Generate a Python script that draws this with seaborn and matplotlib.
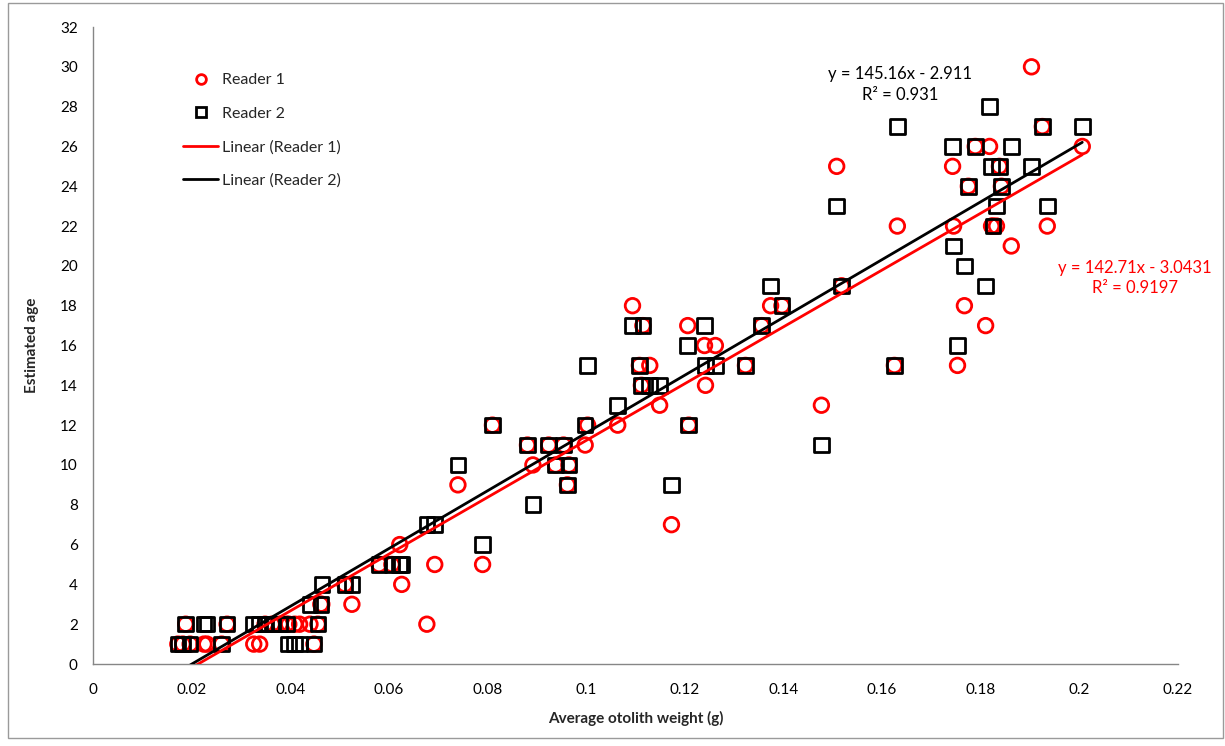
import numpy as np
import pandas as pd
import seaborn as sns
import matplotlib.pyplot as plt
from matplotlib.lines import Line2D
from matplotlib.patches import Rectangle

# average otolith weight (g) per fish, with the age given by each reader
weight = [0.0172, 0.0182, 0.0188, 0.0197, 0.0225, 0.0231, 0.0261, 0.0272,
          0.0326, 0.0338, 0.0349, 0.0363, 0.0379, 0.0393, 0.0397, 0.0409,
          0.0419, 0.0440, 0.0448, 0.0456, 0.0462, 0.0464, 0.0525, 0.0511,
          0.0580, 0.0606, 0.0622, 0.0626, 0.0677, 0.0693, 0.0740, 0.0790,
          0.0810, 0.0881, 0.0892, 0.0924, 0.0938, 0.0954, 0.0962, 0.0965,
          0.0998, 0.1003, 0.1064, 0.1094, 0.1115, 0.1108, 0.1112, 0.1129,
          0.1149, 0.1173, 0.1206, 0.1208, 0.1240, 0.1242, 0.1262, 0.1323,
          0.1356, 0.1374, 0.1397, 0.1477, 0.1508, 0.1518, 0.1625, 0.1631,
          0.1743, 0.1745, 0.1753, 0.1767, 0.1775, 0.1789, 0.1810, 0.1818,
          0.1822, 0.1825, 0.1832, 0.1838, 0.1842, 0.1862, 0.1903, 0.1925,
          0.1935, 0.2006]
reader1 = [1, 1, 2, 1, 1, 1, 1, 2,
           1, 1, 2, 2, 2, 2, 2, 2,
           2, 2, 1, 2, 3, 3, 3, 4,
           5, 5, 6, 4, 2, 5, 9, 5,
           12, 11, 10, 11, 10, 11, 9, 10,
           11, 12, 12, 18, 17, 15, 14, 15,
           13, 7, 17, 12, 16, 14, 16, 15,
           17, 18, 18, 13, 25, 19, 15, 22,
           25, 22, 15, 18, 24, 26, 17, 26,
           22, 22, 22, 25, 24, 21, 30, 27,
           22, 26]
reader2 = [1, 1, 2, 1, 2, 2, 1, 2,
           2, 2, 2, 2, 2, 2, 1, 1,
           1, 3, 1, 2, 3, 4, 4, 4,
           5, 5, 5, 5, 7, 7, 10, 6,
           12, 11, 8, 11, 10, 11, 9, 10,
           12, 15, 13, 17, 17, 15, 14, 14,
           14, 9, 16, 12, 17, 15, 15, 15,
           17, 19, 18, 11, 23, 19, 15, 27,
           26, 21, 16, 20, 24, 26, 19, 28,
           25, 22, 23, 25, 24, 26, 25, 27,
           23, 27]

# trendline coefficients as printed on the chart
fit1 = (142.71, -3.0431, 0.9197)
fit2 = (145.16, -2.911, 0.931)

df = pd.DataFrame({'weight': weight, 'r1': reader1, 'r2': reader2})

sns.set_theme(style='white')
plt.rcParams['font.family'] = ['Lato', 'DejaVu Sans']

fig = plt.figure(figsize=(12.25, 7.46), dpi=100)
ax = fig.add_axes([0.0759, 0.1099, 0.8857, 0.8539])

sns.scatterplot(data=df, x='weight', y='r1', ax=ax, marker='o', s=110,
                facecolor='none', edgecolor='#ff0000', linewidth=2, zorder=3)
sns.scatterplot(data=df, x='weight', y='r2', ax=ax, marker='s', s=110,
                facecolor='none', edgecolor='black', linewidth=2, zorder=3)

xs = np.array([df['weight'].min(), df['weight'].max()])
sns.lineplot(x=xs, y=fit1[0] * xs + fit1[1], ax=ax, color='#ff0000', linewidth=2, zorder=4)
sns.lineplot(x=xs, y=fit2[0] * xs + fit2[1], ax=ax, color='black', linewidth=2, zorder=4)

ax.set_xlim(0, 0.22)
ax.set_ylim(0, 32)
ax.set_xticks(np.arange(0, 0.2201, 0.02))
ax.set_xticklabels(['0', '0.02', '0.04', '0.06', '0.08', '0.1', '0.12', '0.14',
                    '0.16', '0.18', '0.2', '0.22'])
ax.set_yticks(range(0, 33, 2))
ax.tick_params(axis='both', direction='out', length=5, width=1, color='#868686',
               labelsize=11, labelcolor='black', pad=6)
ax.tick_params(axis='x', pad=9)
for side in ['top', 'right']:
    ax.spines[side].set_visible(False)
for side in ['left', 'bottom']:
    ax.spines[side].set_color('#868686')
    ax.spines[side].set_linewidth(1)

ax.set_xlabel('Average otolith weight (g)', fontsize=11, fontweight='bold', labelpad=10)
ax.set_ylabel('Estimated age', fontsize=11, fontweight='bold', labelpad=15)

ax.text(0.1636, 29.1, f'y = {fit2[0]}x - {abs(fit2[1])}\nR² = {fit2[2]}',
        ha='center', va='center', fontsize=12, color='black', linespacing=1.35)
ax.text(0.2112, 19.4, f'y = {fit1[0]}x - {abs(fit1[1])}\nR² = {fit1[2]}',
        ha='center', va='center', fontsize=12, color='#ff0000', linespacing=1.3)

handles = [
    Line2D([], [], marker='o', linestyle='none', markersize=7, markerfacecolor='none',
           markeredgecolor='#ff0000', markeredgewidth=2),
    Line2D([], [], marker='s', linestyle='none', markersize=7, markerfacecolor='none',
           markeredgecolor='black', markeredgewidth=2),
    Line2D([], [], color='#ff0000', linewidth=2),
    Line2D([], [], color='black', linewidth=2),
]
labels = ['Reader 1', 'Reader 2', 'Linear (Reader 1)', 'Linear (Reader 2)']
ax.legend(handles, labels, loc='upper left', bbox_to_anchor=(0.07, 0.95),
          frameon=False, fontsize=11.5, handlelength=2.2, labelspacing=1.2,
          handletextpad=0.2)

fig.patches.append(Rectangle((8 / 1225, 1 - 738 / 746), 1215 / 1225, 735 / 746,
                             transform=fig.transFigure, fill=False,
                             edgecolor='#9a9a9a', linewidth=1))

fig.savefig('out.png', dpi=100)
